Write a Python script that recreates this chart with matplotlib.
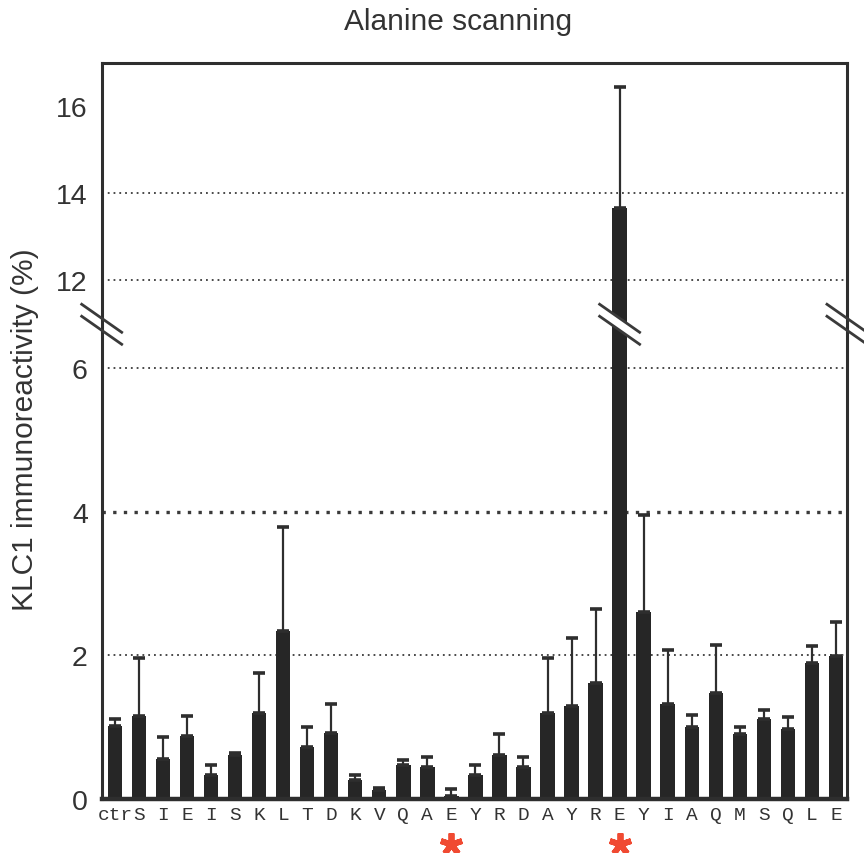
import numpy as np
import matplotlib
matplotlib.use("Agg")
import matplotlib.pyplot as plt
from matplotlib.lines import Line2D
from matplotlib.patches import Polygon
from matplotlib.transforms import IdentityTransform

# Alanine-scanning mutants (single-letter residue codes) and control
residues = ['ctr', 'S', 'I', 'E', 'I', 'S', 'K', 'L', 'T', 'D', 'K', 'V', 'Q', 'A',
            'E', 'Y', 'R', 'D', 'A', 'Y', 'R', 'E', 'Y', 'I', 'A', 'Q', 'M', 'S',
            'Q', 'L', 'E']
# KLC1 immunoreactivity (%) and upper error (SEM)
reactivity = [1.02, 1.16, 0.56, 0.88, 0.34, 0.62, 1.20, 2.34, 0.73, 0.92, 0.27,
              0.13, 0.48, 0.45, 0.04, 0.34, 0.62, 0.45, 1.20, 1.30, 1.62, 13.65,
              2.61, 1.32, 1.01, 1.47, 0.91, 1.11, 0.97, 1.90, 1.99]
sem = [0.10, 0.81, 0.31, 0.27, 0.13, 0.02, 0.56, 1.45, 0.28, 0.40, 0.07,
       0.03, 0.07, 0.14, 0.10, 0.14, 0.28, 0.14, 0.76, 0.94, 1.03, 2.80,
       1.35, 0.76, 0.16, 0.67, 0.09, 0.13, 0.17, 0.23, 0.47]
# residues whose mutation abolishes binding
marked = [14, 21]
y_ticks = [0, 2, 4, 6, 12, 14, 16]
grid_levels = [2, 4, 6, 12, 14]

# Broken y axis: 0..LOW_TOP linear, then a compressed segment from HIGH_START upward
LOW_TOP, HIGH_START, HIGH_RATIO = 6.625, 11.0, 0.604
GAP = (HIGH_START - LOW_TOP) * 1e-3


def fwd(y):
    y = np.asarray(y, dtype=float)
    mid = LOW_TOP + (y - LOW_TOP) * 1e-3
    high = LOW_TOP + GAP + (y - HIGH_START) * HIGH_RATIO
    return np.where(y <= LOW_TOP, y, np.where(y < HIGH_START, mid, high))


def inv(t):
    t = np.asarray(t, dtype=float)
    mid = LOW_TOP + (t - LOW_TOP) / 1e-3
    high = HIGH_START + (t - LOW_TOP - GAP) / HIGH_RATIO
    return np.where(t <= LOW_TOP, t, np.where(t < LOW_TOP + GAP, mid, high))


ink = '#2e2e2e'
fig = plt.figure(figsize=(8.64, 8.54), dpi=100)
fig.patch.set_facecolor('white')
ax = fig.add_axes([0.1177, 0.0632, 0.8626, 0.8619])
ax.set_yscale('function', functions=(fwd, inv))
ax.set_ylim(0, 17)
ax.set_xlim(-0.55, 30.46)

x = np.arange(len(residues))

for lvl in grid_levels:
    ax.axhline(lvl, color='#3a3a3a', lw=2.4 if lvl == 4 else 1.3,
               ls=(0, (1, 2.2)), zorder=1)

ax.bar(x, reactivity, width=0.6, color='#262626', zorder=2)
ax.errorbar(x, reactivity, yerr=[np.zeros(len(sem)), sem], fmt='none',
            ecolor=ink, elinewidth=1.6, capsize=4.5, capthick=2.6, zorder=3)

ax.set_yticks(y_ticks)
ax.set_yticklabels([str(v) for v in y_ticks], fontsize=20.5,
                   family='Liberation Sans', color='#333333')
ax.set_xticks(x)
ax.set_xticklabels(residues, fontsize=14, family='Liberation Mono', color='#333333')
ax.tick_params(axis='y', length=0, pad=10)
ax.tick_params(axis='x', length=0, pad=5)

for side in ['left', 'top', 'right']:
    ax.spines[side].set_linewidth(2.2)
    ax.spines[side].set_color(ink)
ax.spines['bottom'].set_linewidth(3.2)
ax.spines['bottom'].set_color(ink)

ax.text(-0.103, 0.503, 'KLC1 immunoreactivity (%)', transform=ax.transAxes,
        rotation=90, ha='center', va='center', fontsize=21.5,
        family='Liberation Sans', color='#333333')
fig.text(0.530, 0.974, 'Alanine scanning', ha='center', va='center',
         fontsize=21.5, family='Liberation Sans', color='#333333')

# red asterisks under the key residues
ax.plot(marked, [-0.061] * len(marked), transform=ax.get_xaxis_transform(),
        ls='none', marker=(5, 2, 0), ms=16, mew=4.2, color='#f04a32',
        clip_on=False, zorder=5)

# axis-break marks ("\\") on both spines and on the tall bar
fig.canvas.draw()
ident = IdentityTransform()
y_lo = ax.transData.transform((0, LOW_TOP))[1]
y_hi = ax.transData.transform((0, HIGH_START))[1]
cy = 0.5 * (y_lo + y_hi) - 1
x_left = ax.transAxes.transform((0, 0))[0]
x_right = ax.transAxes.transform((1, 0))[0]
x_bar = ax.transData.transform((21, 0))[0]
hw, hh, sep = 20, 14, 6


def break_mark(cx, fill):
    if fill:
        poly = Polygon([(cx - hw, cy + sep + hh), (cx + hw, cy + sep - hh),
                        (cx + hw, cy - sep - hh), (cx - hw, cy - sep + hh)],
                       closed=True, facecolor='white', edgecolor='none',
                       transform=ident, zorder=10)
        fig.add_artist(poly)
    for off in (sep, -sep):
        fig.add_artist(Line2D([cx - hw, cx + hw], [cy + off + hh, cy + off - hh],
                              color='#3a3a3a', lw=2.0, transform=ident, zorder=11))


break_mark(x_left, False)
break_mark(x_bar, True)
break_mark(x_right, False)

fig.savefig('out.png', dpi=100, facecolor='white')
